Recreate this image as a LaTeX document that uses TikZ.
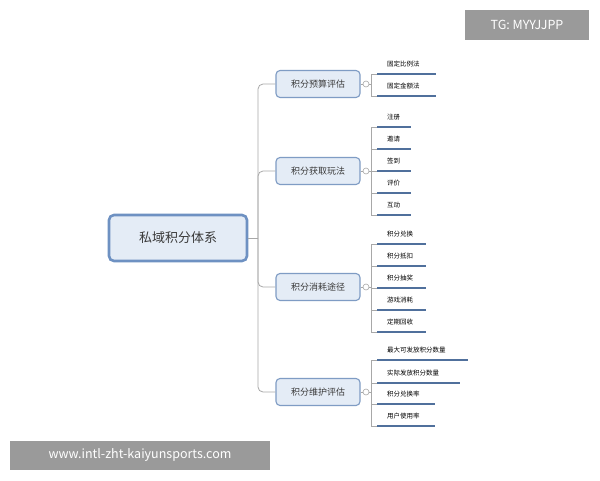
\documentclass[tikz,border=0pt]{standalone}
\usepackage{fontspec}
\setmainfont{Noto Sans CJK SC}
\begin{document}
\begin{tikzpicture}[x=1pt,y=-1pt,
  rootbox/.style={draw=rootc,line width=2.6pt,fill=boxfill,rounded corners=5pt,minimum width=138pt,minimum height=46pt,font=\fontsize{13}{15}\selectfont,text=txt},
  branchbox/.style={draw=brc,line width=1.1pt,fill=boxfill,rounded corners=4pt,minimum width=84pt,minimum height=27pt,font=\fontsize{9}{11}\selectfont,text=txt},
  leaf/.style={anchor=base west,font=\fontsize{6.5}{8}\selectfont,inner sep=0pt},
  conn/.style={draw=lc,line width=0.8pt},
  uline/.style={draw=ulc,line width=1.4pt},
  knob/.style={circle,draw=lc,fill=white,inner sep=0pt,minimum size=6pt,line width=0.6pt},
  wm/.style={fill=wmc,text=white,inner sep=0pt,font=\fontsize{12.5}{14}\selectfont}]
\definecolor{rootc}{HTML}{6E91C2}
\definecolor{brc}{HTML}{7F9CC4}
\definecolor{boxfill}{HTML}{E4ECF6}
\definecolor{txt}{HTML}{3A3A3A}
\definecolor{lc}{HTML}{A8A8A8}
\definecolor{ulc}{HTML}{50709C}
\definecolor{wmc}{HTML}{9A9A9A}
\useasboundingbox[fill=white] (0,0) rectangle (600,480);
\node[rootbox] (root) at (178,238) {私域积分体系};
\coordinate (trunk) at (258,238);
\draw[conn] (root.east) -- (trunk);
\foreach \n/\y/\t in {b1/84/积分预算评估,b2/171/积分获取玩法,b3/287/积分消耗途径,b4/392/积分维护评估}{
  \node[branchbox] (\n) at (318,\y) {\t};
  \draw[conn,rounded corners=5pt] (trunk) -- (258,\y) -- (\n.west);
  \node[knob] (\n k) at (366,\y) {};
  \draw[conn] (\n.east) -- (\n k);
}
\newcommand\leafgroup[3]{%
  \foreach \yy/\tt/\ee [count=\i] in {#2}{
    \node[leaf] (#1l\i) at (387,\yy) {\tt};
    \coordinate (#1u\i) at (377,\yy+8);
    \coordinate (#1e\i) at (\ee,\yy+8);
    \draw[uline] (#1u\i) -- (#1e\i);
    \draw[conn] (371,\yy+8) -- (#1u\i);
  }
  \draw[conn] (371,#3) |- (#1k);
}
\leafgroup{b1}{66/固定比例法/436,88/固定金额法/436}{74}
\draw[conn] (371,74) -- (371,96);
\leafgroup{b2}{119/注册/411,141/邀请/411,163/签到/411,185/评价/411,207/互动/411}{127}
\draw[conn] (371,127) -- (371,215);
\leafgroup{b3}{236/积分兑换/426,258/积分抵扣/426,280/积分抽奖/426,302/游戏消耗/426,324/定期回收/426}{244}
\draw[conn] (371,244) -- (371,332);
\leafgroup{b4}{352/最大可发放积分数量/468,375/实际发放积分数量/460,396/积分兑换率/435,418/用户使用率/435}{360}
\draw[conn] (371,360) -- (371,426);
\node[wm,minimum width=124pt,minimum height=30pt] (tg) at (527,25) {TG: MYYJJPP};
\node[wm,minimum width=260pt,minimum height=29pt] (url) at (140,455) {www.intl-zht-kaiyunsports.com};
\end{tikzpicture}
\end{document}
